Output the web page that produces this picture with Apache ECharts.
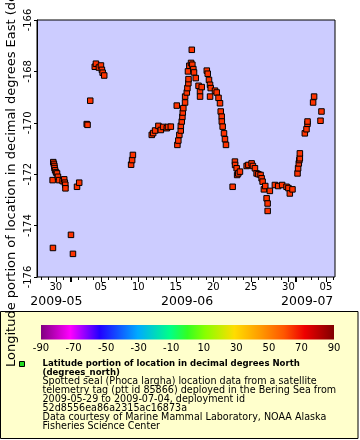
<!DOCTYPE html>
<html><head><meta charset="utf-8">
<script src="https://cdn.jsdelivr.net/npm/echarts@6/dist/echarts.min.js"></script>
<style>html,body{margin:0;padding:0;background:#fff}#c{width:360px;height:440px}</style>
</head><body><div id="c"></div>
<script>
// ---- data (time UTC, longitude degrees East) ----
const times = [
'2009-05-29 14:00','2009-05-29 15:00','2009-05-29 16:00','2009-05-29 18:00','2009-05-29 19:30','2009-05-29 20:00','2009-05-29 22:00',
'2009-05-30 01:00','2009-05-30 04:00','2009-05-30 07:00','2009-05-30 10:30','2009-05-30 22:00','2009-05-31 03:00','2009-05-31 05:00',
'2009-05-31 06:30','2009-05-31 07:00','2009-06-01 00:40','2009-06-01 07:00','2009-06-01 20:00','2009-06-02 03:00',
'2009-06-03 03:00','2009-06-03 05:40','2009-06-03 14:20','2009-06-04 04:45','2009-06-04 08:30','2009-06-04 18:00','2009-06-05 00:30',
'2009-06-05 03:30','2009-06-05 06:00','2009-06-05 11:00',
'2009-06-09 01:00','2009-06-09 04:15','2009-06-09 06:40',
'2009-06-11 19:00','2009-06-11 23:30','2009-06-12 05:40','2009-06-12 16:15','2009-06-13 00:00','2009-06-13 07:20','2009-06-13 19:00',
'2009-06-13 23:00','2009-06-14 08:00',
'2009-06-15 03:00','2009-06-15 05:00','2009-06-15 08:00','2009-06-15 11:15','2009-06-15 15:45','2009-06-15 16:00','2009-06-15 19:00',
'2009-06-15 21:00','2009-06-15 22:10','2009-06-16 00:00','2009-06-16 05:30','2009-06-16 05:45','2009-06-16 11:00','2009-06-16 13:00',
'2009-06-16 14:50','2009-06-16 16:00','2009-06-16 16:30','2009-06-16 19:10','2009-06-17 00:40','2009-06-17 03:00','2009-06-17 04:45',
'2009-06-17 08:00','2009-06-17 10:10','2009-06-17 15:40','2009-06-18 00:40','2009-06-18 05:20','2009-06-18 05:30','2009-06-18 10:45',
'2009-06-19 03:00','2009-06-19 06:00','2009-06-19 10:00','2009-06-19 13:20','2009-06-19 13:30','2009-06-19 15:30','2009-06-20 05:15',
'2009-06-20 10:40','2009-06-20 16:30','2009-06-20 21:15','2009-06-20 23:30','2009-06-21 02:40','2009-06-21 03:00','2009-06-21 05:45',
'2009-06-21 10:00','2009-06-21 13:10','2009-06-21 16:20',
'2009-06-22 13:40','2009-06-22 21:00','2009-06-22 21:30','2009-06-23 02:30','2009-06-23 04:00','2009-06-23 07:40','2009-06-23 13:00',
'2009-06-24 10:30','2009-06-24 16:00','2009-06-25 02:20','2009-06-25 06:30','2009-06-25 13:00','2009-06-25 18:20','2009-06-26 00:00',
'2009-06-26 07:00','2009-06-26 10:20','2009-06-26 13:30','2009-06-26 17:40','2009-06-26 22:00','2009-06-27 02:20','2009-06-27 05:30',
'2009-06-27 05:40','2009-06-27 12:40','2009-06-28 04:45','2009-06-28 15:20','2009-06-29 04:00','2009-06-29 18:00','2009-06-30 00:00',
'2009-06-30 04:30','2009-06-30 13:00',
'2009-07-01 05:10','2009-07-01 07:00','2009-07-01 09:15','2009-07-01 11:00','2009-07-01 12:30','2009-07-01 12:40',
'2009-07-02 04:30','2009-07-02 09:50','2009-07-02 13:00','2009-07-02 13:15','2009-07-03 07:00','2009-07-03 10:10',
'2009-07-04 06:40','2009-07-04 09:45'
];
const lons = [
-172.23,-174.87,-171.53,-171.60,-171.68,-171.76,-171.85,
-171.93,-171.97,-172.10,-172.23,-172.27,-172.20,-172.33,
-172.41,-172.55,-174.36,-175.10,-172.49,-172.33,
-170.05,-170.08,-169.14,-167.82,-167.70,-167.85,-167.77,
-167.94,-168.05,-168.16,
-171.63,-171.45,-171.25,
-170.47,-170.40,-170.30,-170.12,-170.28,-170.16,-170.21,
-170.16,-170.15,
-169.33,-170.86,-170.69,-170.47,-170.30,-170.12,-169.95,
-169.77,-169.60,-169.43,-169.21,-168.98,-168.82,-168.65,
-168.00,-168.46,-168.30,-167.78,-167.67,-167.16,-167.74,
-167.91,-168.04,-168.26,-168.56,-168.78,-168.98,-168.61,
-167.97,-168.09,-168.33,-168.52,-168.98,-168.65,-168.75,
-168.82,-169.03,-169.24,-169.56,-169.76,-169.95,-170.15,
-170.41,-170.64,-170.86,
-172.49,-171.51,-171.64,-171.77,-172.03,-171.97,-171.90,
-171.68,-171.64,-171.58,-171.68,-171.77,-171.97,-172.00,
-172.03,-172.16,-172.29,-172.59,-172.46,-172.94,-173.14,
-173.43,-172.65,-172.42,-172.46,-172.42,-172.49,-172.54,
-172.75,-172.59,
-171.97,-171.77,-171.58,-171.45,-171.38,-171.19,
-170.41,-170.25,-170.04,-169.95,-169.21,-168.98,
-169.92,-169.56
];
const xRange = ['2009-05-27 12:00', '2009-07-06 05:00'];
const lonRange = [-176, -166];
const lonStep = 2;
const dayLabelDates = ['2009-05-30','2009-06-05','2009-06-10','2009-06-15','2009-06-20','2009-06-25','2009-06-30','2009-07-05'];
const monthStarts = ['2009-06-01','2009-07-01'];
const monthLabels = ['2009-05','2009-06','2009-07'];
const monthLabelDates = ['2009-05-30 02:00','2009-06-16 12:00','2009-07-02 12:00'];
const colorRange = [-90, 90];
const colorTickLabels = [-90,-70,-50,-30,-10,10,30,50,70,90];
const legendTitle = ['Latitude portion of location in decimal degrees North', '(degrees_north)'];
const legendLines = [
 'Spotted seal (Phoca largha) location data from a satellite',
 'telemetry tag (ptt id 85866) deployed in the Bering Sea from',
 '2009-05-29 to 2009-07-04, deployment id',
 '52d8556ea86a2315ac16873a',
 'Data courtesy of Marine Mammal Laboratory, NOAA Alaska',
 'Fisheries Science Center'
];
const yTitle = 'Longitude portion of location in decimal degrees East (degrees_east)';

// ---- helpers ----
function ts(s){
  const [d, h] = s.split(' ');
  const [Y, M, D] = d.split('-').map(Number);
  let hh = 0, mm = 0;
  if (h) { [hh, mm] = h.split(':').map(Number); }
  return Date.UTC(Y, M - 1, D, hh, mm);
}
const DAY = 86400000;
const xMin = ts(xRange[0]), xMax = ts(xRange[1]);
const dailyTicks = [];
for (let v = Math.ceil(xMin / DAY) * DAY; v <= xMax; v += DAY) dailyTicks.push(v);
const labelTicks = dayLabelDates.map(ts);
const monthTickVals = monthStarts.map(ts);
const monthLabelVals = monthLabelDates.map(ts);

const pts = times.map((s, i) => [ts(s), lons[i]]).sort((a, b) => a[0] - b[0]);

const FONT = 'DejaVu Sans';
const BOLD_FONT = 'DejaVu Sans Condensed';
const boldSize = 9.5;
const regSize = 9.6;

const baseX = {
  gridIndex: 0, type: 'value', min: xMin, max: xMax, position: 'bottom', offset: 0,
  splitLine: { show: false },
  axisLine: { show: false },
  axisLabel: { show: false },
  axisTick: { show: false }
};

const stops = [
  [0, '#800080'], [0.1, '#ff00ff'], [0.2, '#2200ff'], [0.33, '#00aaff'],
  [0.44, '#00ff88'], [0.5, '#33ff22'], [0.56, '#88ff00'], [0.66, '#ffdd00'],
  [0.75, '#ff9900'], [0.83, '#ff5500'], [0.9, '#ee0000'], [1, '#800000']
].map(s => ({ offset: s[0], color: s[1] }));

const legendTextEls = [];
const lineY0 = 364, lineH = 8.96;
legendTitle.forEach((s, i) => legendTextEls.push({
  type: 'text', x: 42.5, y: lineY0 + i * lineH, z: 50,
  style: { text: s, fill: '#000', fontFamily: BOLD_FONT, fontWeight: 'bold', fontSize: boldSize, verticalAlign: 'middle' }
}));
legendLines.forEach((s, i) => legendTextEls.push({
  type: 'text', x: 42.5, y: lineY0 + (i + 2) * lineH, z: 50,
  style: { text: s, fill: '#000', fontFamily: FONT, fontWeight: 'normal', fontSize: regSize, verticalAlign: 'middle' }
}));

const option = {
  animation: false,
  backgroundColor: '#fff',
  grid: [
    { left: 37, top: 20, width: 298, height: 257, show: true, backgroundColor: '#ccccff', borderColor: '#000', borderWidth: 1 },
    { left: 41, top: 325, width: 293, height: 14.5, show: false }
  ],
  xAxis: [
    Object.assign({}, baseX, {
      axisTick: { show: true, customValues: dailyTicks, length: 3, lineStyle: { color: '#000', width: 1 } }
    }),
    Object.assign({}, baseX, {
      axisTick: { show: true, customValues: labelTicks, length: 5, lineStyle: { color: '#000', width: 1 } },
      axisLabel: { show: true, customValues: labelTicks, margin: 5, color: '#000', fontFamily: FONT, fontSize: 10,
        formatter: v => String(new Date(v).getUTCDate()).padStart(2, '0') }
    }),
    Object.assign({}, baseX, {
      axisTick: { show: true, customValues: monthTickVals, length: 5, lineStyle: { color: '#000', width: 2 } }
    }),
    Object.assign({}, baseX, {
      axisLabel: { show: true, customValues: monthLabelVals, margin: 18, color: '#000', fontFamily: FONT, fontSize: 12.5,
        formatter: v => monthLabels[monthLabelVals.indexOf(v)] || '' }
    }),
    { gridIndex: 1, type: 'value', min: colorRange[0], max: colorRange[1], position: 'bottom',
      splitLine: { show: false }, axisLine: { show: false }, axisTick: { show: false },
      axisLabel: { show: true, customValues: colorTickLabels, margin: 4, color: '#000', fontFamily: FONT, fontSize: 10 } }
  ],
  yAxis: [
    { gridIndex: 0, type: 'value', min: lonRange[0], max: lonRange[1], interval: lonStep,
      splitLine: { show: false },
      axisLine: { show: true, lineStyle: { color: '#000' } },
      axisTick: { show: true, length: 3, lineStyle: { color: '#000' } },
      axisLabel: { rotate: 90, margin: 4, color: '#000', fontFamily: FONT, fontSize: 10 } },
    { gridIndex: 1, type: 'value', min: 0, max: 1, show: false }
  ],
  graphic: [
    { type: 'rect', z: -10, shape: { x: 0.5, y: 311.5, width: 357.5, height: 127 },
      style: { fill: '#ffffcc', stroke: '#000', lineWidth: 1 } },
    { type: 'rect', z: 50, shape: { x: 19.5, y: 361.5, width: 5, height: 5 },
      style: { fill: '#22dd22', stroke: '#000', lineWidth: 1 } },
    ...legendTextEls,
    { type: 'text', x: 12, y: 367, rotation: Math.PI / 2, z: 100,
      style: { text: yTitle, fill: '#000', fontFamily: FONT, fontSize: 13, align: 'left', verticalAlign: 'middle' } }
  ],
  series: [
    { type: 'scatter', xAxisIndex: 0, yAxisIndex: 0, data: pts, symbol: 'rect', symbolSize: 5.5,
      itemStyle: { color: '#ff3300', borderColor: '#000', borderWidth: 1, opacity: 1 },
      emphasis: { disabled: true }, z: 5 },
    { type: 'custom', xAxisIndex: 4, yAxisIndex: 1, data: [[colorRange[0], colorRange[1]]], z: 5,
      renderItem: (params, api) => {
        const a = api.coord([api.value(0), 0]);
        const b = api.coord([api.value(1), 1]);
        return { type: 'rect', shape: { x: a[0], y: b[1], width: b[0] - a[0], height: a[1] - b[1] },
          style: { fill: new echarts.graphic.LinearGradient(0, 0, 1, 0, stops) } };
      } }
  ]
};
const chart = echarts.init(document.getElementById('c'), null, { renderer: 'canvas' });
chart.setOption(option);
</script></body></html>
